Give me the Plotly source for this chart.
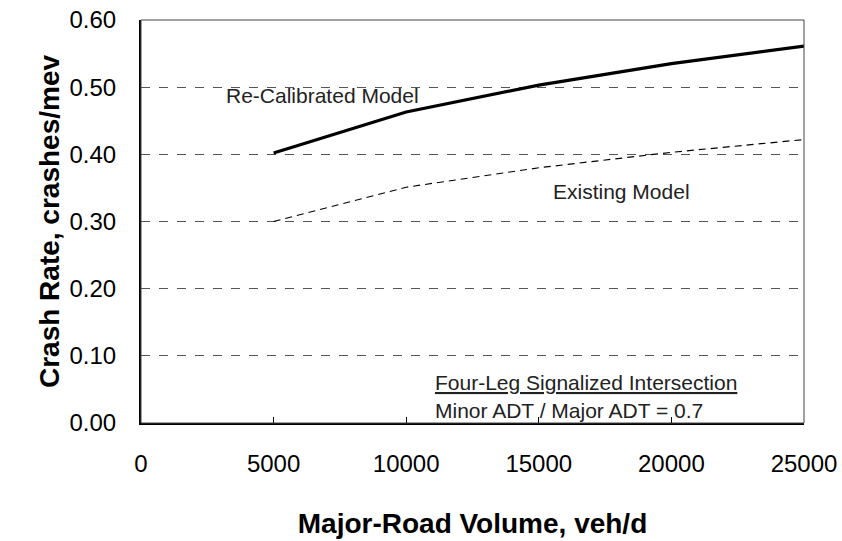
import plotly.graph_objects as go

volume = [5000, 10000, 15000, 20000, 25000]
recalibrated = [0.402, 0.463, 0.503, 0.535, 0.561]
existing = [0.300, 0.351, 0.380, 0.403, 0.422]

x_ticks = [0, 5000, 10000, 15000, 20000, 25000]
y_ticks = [0.0, 0.1, 0.2, 0.3, 0.4, 0.5, 0.6]

font = "Liberation Sans, Arial, sans-serif"

fig = go.Figure()
fig.add_trace(go.Scatter(
    x=volume, y=recalibrated, mode='lines',
    line=dict(color='black', width=3.2),
    name='Re-Calibrated Model'
))
fig.add_trace(go.Scatter(
    x=volume, y=existing, mode='lines',
    line=dict(color='black', width=1.2, dash='7px,5px'),
    name='Existing Model'
))

# thin frame on top/right
fig.add_shape(type='rect', xref='paper', yref='paper', x0=0, x1=1, y0=0, y1=1,
              line=dict(color='#444', width=1), layer='above')

ann_font = dict(size=21, color='#222', family=font)
fig.add_annotation(x=3130, y=0.487, text='Re-Calibrated Model', showarrow=False,
                   xanchor='left', font=ann_font)
fig.add_annotation(x=15450, y=0.345, text='Existing Model', showarrow=False,
                   xanchor='left', font=ann_font)
fig.add_annotation(x=11000, y=0.060, text='<u>Four-Leg Signalized Intersection</u>',
                   showarrow=False, xanchor='left', font=ann_font)
fig.add_annotation(x=11000, y=0.019, text='Minor ADT / Major ADT = 0.7',
                   showarrow=False, xanchor='left', font=ann_font)

fig.update_layout(
    width=842, height=541,
    margin=dict(l=141, r=38, t=20, b=118),
    paper_bgcolor='white', plot_bgcolor='white',
    showlegend=False,
    font=dict(family=font, color='black'),
    xaxis=dict(
        range=[0, 25000], tickvals=x_ticks, ticktext=[str(v) for v in x_ticks],
        ticks='inside', ticklen=6, tickcolor='black', tickwidth=1,
        showgrid=False, zeroline=False, automargin=False,
        showline=True, linecolor='black', linewidth=2,
        tickfont=dict(size=24, family=font), ticklabelstandoff=18,
        ticklabeloverflow='allow',
        title=dict(text='<b>Major-Road Volume, veh/d</b>', font=dict(size=28, family=font), standoff=38),
    ),
    yaxis=dict(
        range=[0, 0.6], tickvals=y_ticks, ticktext=['%.2f' % v for v in y_ticks],
        ticks='', showgrid=True, gridcolor='#555', griddash='dash', gridwidth=1,
        zeroline=False, showline=True, linecolor='black', linewidth=2, automargin=False,
        tickfont=dict(size=24, family=font), ticklabelstandoff=18,
        ticklabeloverflow='allow',
        title=dict(text='<b>Crash Rate, crashes/mev</b>', font=dict(size=28, family=font), standoff=2),
    ),
)

# drop the browser's default body margin so the figure sits at 0,0
fig.write_html("out.html", config={'displayModeBar': False},
               post_script="document.body.style.margin='0';")
